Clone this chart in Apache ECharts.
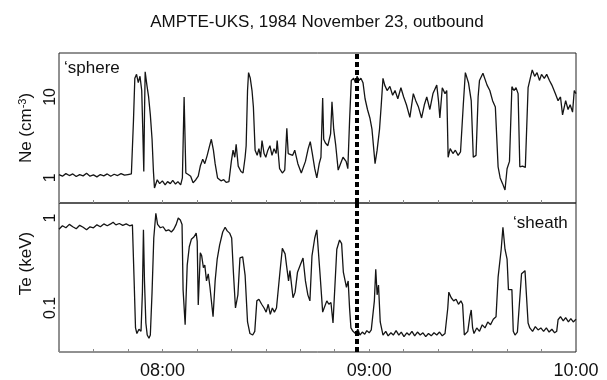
<!DOCTYPE html>
<html>
<head>
<meta charset="utf-8">
<script src="https://cdn.jsdelivr.net/npm/echarts@6/dist/echarts.min.js"></script>
<style>
  html, body { margin: 0; padding: 0; background: #fff; }
  #chart { width: 607px; height: 380px; }
</style>
</head>
<body>
<div id="chart"></div>
<script>
// minutes after midnight (UT)
const neTime = [450, 451, 452, 453, 454, 455, 456, 457, 458, 459, 460, 461, 462, 463, 464, 465, 466, 467, 468, 469, 470, 471,
  471.6, 472, 472.5, 473, 473.5, 474, 474.3, 474.6, 474.8, 475, 475.5, 476, 476.5, 477, 477.4, 477.7,
  478.5, 479.2, 480, 480.8, 481.5, 482.3, 483, 483.8, 484.5, 485.3, 485.8, 486.3, 486.8,
  487.5, 488.2, 488.9, 489.7, 490.4, 491, 491.7, 492.3, 493, 493.6, 494.2, 494.8, 495.3,
  496, 497, 497.8, 498.5, 499.3, 500, 500.5, 501, 501.4, 502, 502.8, 503.4, 504, 504.3, 504.7, 505, 505.5, 506, 506.4, 506.9,
  507.5, 508, 508.5, 508.9, 509.5, 510, 510.6, 511.2, 511.8, 512.4, 513, 513.3, 514, 514.8, 515.5, 516.1, 516.5,
  517, 517.8, 518.4, 519.3, 520.3, 521.5, 522.3, 522.9, 523.5, 524.2, 524.8, 525.5, 526, 526.5, 526.8,
  527.3, 528, 528.8, 529.2, 529.7, 530.3, 531, 531.5, 532.4, 533.3, 533.8, 534.3, 534.8,
  535.5, 536, 536.5, 537, 537.6, 538.2, 538.8, 539.5, 540.2, 540.8, 541.7, 542.3, 543, 543.5, 544,
  544.5, 545.2, 546, 546.8, 547.5, 548.3, 549.2, 550, 550.8, 551.8, 552.8, 553.5, 554.3, 555.2, 556, 556.7,
  557.6, 558.5, 559.6, 560.1, 560.5, 561.2, 562, 562.5, 562.9, 563.5, 564.3, 565, 565.8, 566.5,
  567.3, 567.9, 568.8, 569.6, 570.2, 571, 571.6, 572, 573, 574.2, 575, 575.8, 576.6, 577.4,
  578, 578.7, 579.4, 580, 580.7, 581.4, 582, 582.6, 583.2, 583.7, 584.5, 585.3, 586.1, 587.3,
  588, 588.7, 589.4, 590, 590.8, 591.5, 592.3, 593, 594, 594.8, 595.5, 596.1, 597, 597.7, 598.3, 599, 599.5, 600];
const neValue = [1.1, 1.05, 1.13, 1.07, 1.12, 1.04, 1.1, 1.06, 1.14, 1.05, 1.09, 1.03, 1.1, 1.06, 1.12, 1.05, 1.11, 1.07, 1.13, 1.08, 1.1, 1.12,
  5, 17, 19, 15, 18, 12, 4, 1.2, 6, 20.4, 14, 10, 6, 3, 1.2, 0.75,
  0.95, 0.85, 0.92, 0.82, 0.9, 0.85, 0.93, 0.84, 0.9, 0.82, 1.0, 10, 1.15,
  1.1, 1.05, 0.87, 0.95, 1.05, 1.4, 1.7, 1.5, 1.9, 2.4, 3.0, 2.2, 1.5,
  1.0, 0.92, 0.95, 0.88, 0.9, 1.6, 2.2, 1.8, 2.6, 1.4, 1.2, 1.15, 1.8, 2.5, 12, 20, 17, 12, 7.5, 2.2,
  1.9, 2.3, 1.8, 2.9, 2.0, 1.8, 2.2, 2.5, 1.9, 2.3, 2.0, 2.9, 1.3, 1.15, 1.25, 4.1, 2.0,
  2.1, 1.9, 2.2, 1.5, 1.15, 1.6, 2.3, 2.8, 2.0, 1.3, 1.0, 1.5, 1.8, 9.7, 3,
  2.7, 2.5, 3.5, 8.7, 4, 2.5, 1.25, 1.3, 1.8, 1.6, 1.3, 5, 16,
  17, 15, 18, 16, 17, 15, 9.5, 7, 5.5, 4, 1.5, 2.2, 4, 8, 17,
  14, 12, 13.5, 10.5, 12, 9.5, 13, 10, 8, 5.6, 11, 9, 7.5, 5.5, 8, 10,
  7, 11, 14, 9, 5.5, 13, 11, 12, 1.8, 2.3, 2.0, 2.2, 1.9, 2.1,
  8, 20, 15, 9, 1.8, 1.9, 10, 16, 19.6, 14, 12, 9, 7.5, 1.37,
  1.0, 0.85, 0.71, 1.3, 1.6, 13.4, 12, 13, 11, 1.37, 1.4, 1.35, 13, 21.6,
  18, 20, 16, 19, 17, 19, 16, 14, 11, 9, 10, 6, 9, 7, 8, 6.5, 12, 11];

const teTime = [450, 451, 452, 453, 454, 455, 456, 457, 458, 459, 460, 461, 462, 463, 464, 465, 465.7, 466.5, 467.5, 468.5, 469.5, 470.5, 471.3,
  471.8, 472.2, 472.6, 473.2, 473.8, 474.2, 474.5, 474.8, 475.2, 475.6, 476.1, 476.5, 477, 477.5, 478.1,
  478.6, 479.4, 480.2, 481, 481.8, 482.6, 483.3, 484, 484.6, 485.2, 485.7, 486, 486.6,
  487.2, 487.8, 488.4, 489.2, 489.8, 490.1, 490.4, 491, 491.4, 491.9, 492.3, 492.8, 493.3, 493.8, 494.7,
  495.3, 495.9, 496.6, 497.5, 498.2, 498.8, 499.5, 500.1, 500.6, 501.2, 501.9, 502.5, 503.3, 504, 504.7,
  505.4, 506.2, 506.8, 507.4, 508, 508.8, 509.5, 510.1, 510.7, 511.3, 511.9, 512.5, 513.1,
  514.1, 514.8, 515.6, 516, 516.6, 517, 517.9, 518.5, 519.2, 520, 520.8, 521.5, 522.2, 522.8,
  523.4, 524.2, 524.8, 525.7, 526.5, 527.7, 528.3, 528.9, 529.5, 530.6, 531.4, 532, 532.5, 533.4, 533.9, 534.3, 534.7,
  535.3, 536, 536.7, 537.3, 538, 538.7, 539.3, 540, 540.6, 541.1, 541.5, 541.9, 542.3, 542.7, 543.2,
  544, 544.8, 545.5, 546.3, 547, 547.8, 548.6, 549.3, 550.1, 550.9, 551.6, 552.4, 553.2, 554, 554.8, 555.6,
  556.4, 557.2, 558, 558.8, 559.6, 560.4, 561.2, 562, 562.5, 562.8, 563.1, 563.8, 564.5, 565.2, 565.9, 566.6, 567.1,
  567.6, 568.6, 569.2, 569.6, 570, 570.4, 571.2, 572, 572.8, 573.6, 574.4, 575.2, 576, 576.8,
  577.4, 578.3, 578.8, 579.4, 580, 580.4, 581.4, 581.8, 582.3, 583, 584.2, 585.2, 586.1,
  586.6, 587.4, 588.2, 589, 589.8, 590.6, 591.4, 592.2, 593, 593.8, 594.4,
  594.8, 595.5, 596.3, 597, 597.8, 598.5, 599.2, 600];
const teValue = [0.75, 0.82, 0.78, 0.85, 0.8, 0.76, 0.83, 0.79, 0.74, 0.8, 0.78, 0.84, 0.8, 0.86, 0.82, 0.86, 0.9, 0.84, 0.87, 0.83, 0.86, 0.82, 0.84,
  0.2, 0.06, 0.052, 0.058, 0.055, 0.15, 0.74, 0.2, 0.068, 0.05, 0.046, 0.05, 0.15, 0.6, 1.13,
  0.85, 0.78, 0.8, 0.72, 0.74, 0.7, 0.75, 0.85, 1.0, 0.95, 0.85, 0.16, 0.065,
  0.3, 0.48, 0.58, 0.62, 0.68, 0.55, 0.108, 0.41, 0.38, 0.28, 0.3, 0.2, 0.24, 0.17, 0.08,
  0.2, 0.35, 0.5, 0.7, 0.79, 0.72, 0.68, 0.6, 0.25, 0.1, 0.14, 0.36, 0.37, 0.23, 0.07,
  0.052, 0.05, 0.055, 0.12, 0.125, 0.11, 0.1, 0.09, 0.11, 0.085, 0.1, 0.09, 0.1,
  0.25, 0.46, 0.4, 0.3, 0.2, 0.26, 0.13, 0.15, 0.25, 0.3, 0.36, 0.2, 0.14, 0.12,
  0.38, 0.6, 0.74, 0.25, 0.09, 0.12, 0.11, 0.115, 0.068, 0.45, 0.57, 0.52, 0.25, 0.17, 0.2, 0.1, 0.06,
  0.055, 0.052, 0.058, 0.05, 0.054, 0.051, 0.056, 0.053, 0.057, 0.055, 0.12, 0.27, 0.14, 0.18, 0.07,
  0.05, 0.055, 0.049, 0.053, 0.05, 0.056, 0.05, 0.054, 0.048, 0.053, 0.05, 0.055, 0.049, 0.054, 0.05, 0.053,
  0.048, 0.052, 0.049, 0.053, 0.05, 0.054, 0.049, 0.052, 0.054, 0.1, 0.15, 0.13, 0.12, 0.125, 0.11, 0.12, 0.11,
  0.05, 0.055, 0.08, 0.095, 0.06, 0.052, 0.06, 0.055, 0.065, 0.06, 0.07, 0.065, 0.075, 0.08,
  0.22, 0.45, 0.79, 0.45, 0.35, 0.16, 0.16, 0.055, 0.05, 0.054, 0.24, 0.26, 0.068,
  0.06, 0.055, 0.062, 0.057, 0.06, 0.055, 0.06, 0.054, 0.058, 0.053, 0.055,
  0.074, 0.08, 0.072, 0.078, 0.07, 0.076, 0.07, 0.075];

const boundaryTime = 536.5; // magnetopause crossing, ~08:56
const hourTicks = [480, 540, 600];
const hourLabels = ['08:00', '09:00', '10:00'];
const neLabels = [1, 10];
const teLabels = [0.1, 1];

const FONT = 'Liberation Sans, Arial, sans-serif';
const ink = '#151515';

function zip(xs, ys) {
  return xs.map((x, i) => [x, ys[i]]);
}

function decadeFormatter(allowed) {
  return (v) => {
    const hit = allowed.find((a) => Math.abs(Math.log10(v) - Math.log10(a)) < 0.01);
    return hit === undefined ? '' : String(hit);
  };
}

const xAxisBase = {
  type: 'value',
  min: 450,
  max: 600,
  interval: 10,
  axisLine: { show: false },
  axisTick: { show: true, inside: true, length: 3, lineStyle: { color: '#888' } },
  splitLine: { show: false }
};

const yAxisBase = {
  type: 'log',
  logBase: 10,
  nameLocation: 'middle',
  nameGap: 23,
  axisLine: { show: false },
  axisTick: { show: false },
  splitLine: { show: false },
  minorTick: { show: false }
};

const boundaryLine = {
  silent: true,
  symbol: 'none',
  label: { show: false },
  lineStyle: { color: '#000', width: 4, type: [5, 3] },
  data: [{ xAxis: boundaryTime }]
};

const chart = echarts.init(document.getElementById('chart'));
chart.setOption({
  animation: false,
  backgroundColor: '#fff',
  title: {
    text: 'AMPTE-UKS, 1984 November 23, outbound',
    left: 312,
    top: 9,
    textAlign: 'center',
    textStyle: { fontFamily: FONT, fontSize: 17, fontWeight: 'normal', color: '#111' }
  },
  grid: [
    { left: 59, right: 31, top: 53, height: 150, show: true, borderColor: '#222', borderWidth: 1 },
    { left: 59, right: 31, top: 203, height: 149, show: true, borderColor: '#222', borderWidth: 1 }
  ],
  xAxis: [
    Object.assign({}, xAxisBase, { gridIndex: 0, axisLabel: { show: false } }),
    Object.assign({}, xAxisBase, {
      gridIndex: 1,
      axisLabel: {
        margin: 10,
        fontFamily: FONT,
        fontSize: 18,
        color: '#111',
        formatter: (v) => {
          const i = hourTicks.indexOf(v);
          return i < 0 ? '' : hourLabels[i];
        }
      }
    })
  ],
  yAxis: [
    Object.assign({}, yAxisBase, {
      gridIndex: 0,
      min: 0.49,
      max: 34.9,
      name: 'Ne (cm{sup|-3})',
      nameTextStyle: {
        fontFamily: FONT, fontSize: 17, color: '#111',
        rich: { sup: { fontFamily: FONT, fontSize: 11, color: '#111', verticalAlign: 'top', padding: [0, 0, 8, 0] } }
      },
      axisLabel: { rotate: 90, margin: 0, fontFamily: FONT, fontSize: 16, color: '#111', formatter: decadeFormatter(neLabels) }
    }),
    Object.assign({}, yAxisBase, {
      gridIndex: 1,
      min: 0.0324,
      max: 1.47,
      name: 'Te (keV)',
      nameTextStyle: { fontFamily: FONT, fontSize: 17, color: '#111', padding: [0, 0, 0, 28] },
      axisLabel: { rotate: 90, margin: 0, fontFamily: FONT, fontSize: 16, color: '#111', formatter: decadeFormatter(teLabels) }
    })
  ],
  series: [
    {
      name: 'Ne',
      type: 'line',
      xAxisIndex: 0,
      yAxisIndex: 0,
      data: zip(neTime, neValue),
      showSymbol: false,
      lineStyle: { color: ink, width: 1.3 },
      markLine: boundaryLine
    },
    {
      name: 'Te',
      type: 'line',
      xAxisIndex: 1,
      yAxisIndex: 1,
      data: zip(teTime, teValue),
      showSymbol: false,
      lineStyle: { color: ink, width: 1.3 },
      markLine: boundaryLine
    }
  ],
  graphic: [
    { type: 'text', left: 64, top: 60, style: { text: '\u2018sphere', font: '17px ' + FONT, fill: '#111' } },
    { type: 'text', left: 513, top: 215, style: { text: '\u2018sheath', font: '17px ' + FONT, fill: '#111' } }
  ]
});
</script>
</body>
</html>
